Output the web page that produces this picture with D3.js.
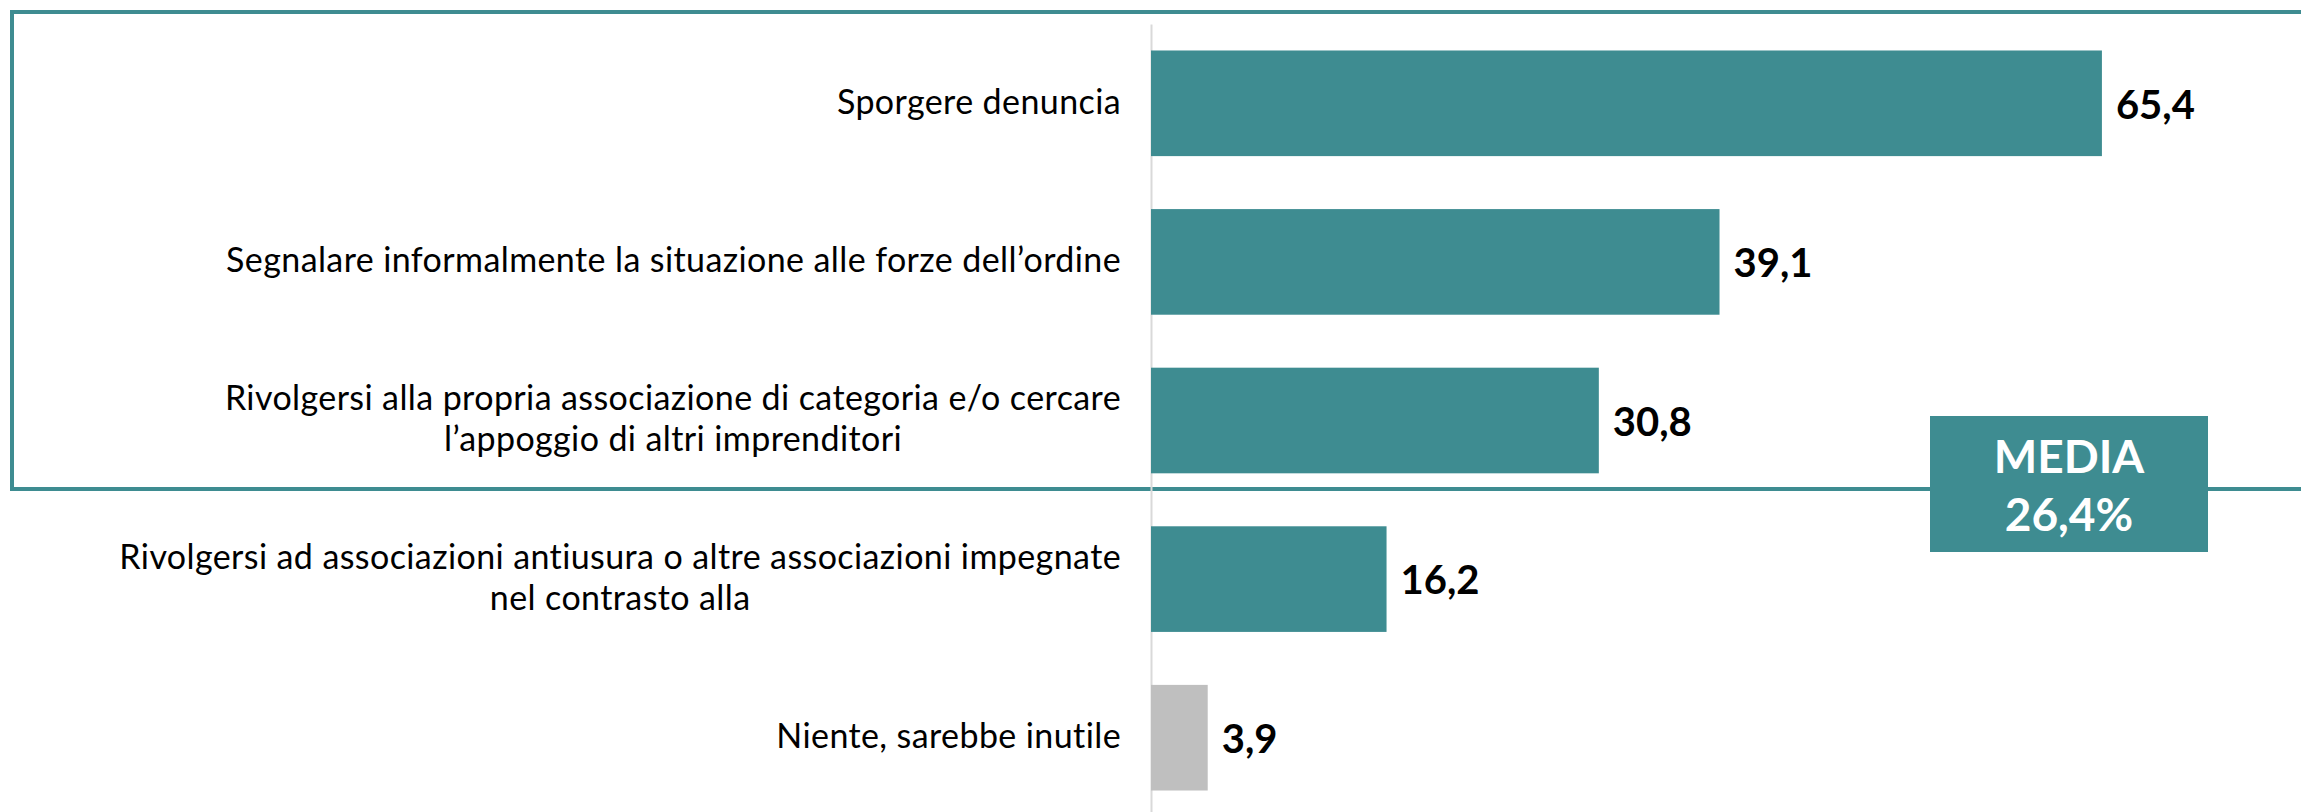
<!DOCTYPE html>
<html>
<head>
<meta charset="utf-8">
<script src="https://cdn.jsdelivr.net/npm/d3@7"></script>
<style>
  body { margin: 0; background: #fff; }
  svg { display: block; }
</style>
</head>
<body>
<svg id="chart"></svg>
<script>
// data
const categories = [
    "Sporgere denuncia",
    "Segnalare informalmente la situazione alle forze dell’ordine",
    "Rivolgersi alla propria associazione di categoria e/o cercare\nl’appoggio di altri imprenditori",
    "Rivolgersi ad associazioni antiusura o altre associazioni impegnate\nnel contrasto alla",
    "Niente, sarebbe inutile"
];
const values = [65.4, 39.1, 30.8, 16.2, 3.9];
const highlighted = [true, true, true, true, false];
const mediaLabel = "MEDIA";
const mediaValue = 26.4;

const TEAL = "#3E8C91";
const GREY = "#BFBFBF";

const width = 2301;
const height = 812;
const axisX = 1151;
const marginTop = 24;
const marginBottom = -5;
const labelPad = 30;

const fmt = v => d3.format(".1f")(v).replace(".", ",");

const svg = d3.select("#chart")
    .attr("width", width)
    .attr("height", height)
    .attr("viewBox", [0, 0, width, height]);

// scales
const y = d3.scaleBand(d3.range(categories.length), [marginTop, height - marginBottom])
    .paddingInner(0.334)
    .paddingOuter(0.167);
const x = d3.scaleLinear([0, 70], [axisX, axisX + 70 * 14.54]);

// frame around the first three answers
svg.append("rect")
    .attr("x", 12)
    .attr("y", 12)
    .attr("width", width + 4 - 12)
    .attr("height", 489 - 12)
    .attr("fill", "none")
    .attr("stroke", TEAL)
    .attr("stroke-width", 4);

// y axis with the category labels
const yAxis = svg.append("g")
    .attr("transform", `translate(${axisX},0)`)
    .call(d3.axisLeft(y).tickSize(0).tickPadding(labelPad).tickFormat(i => categories[i]));

yAxis.select(".domain")
    .attr("stroke", "#D9D9D9")
    .attr("stroke-width", 2);

yAxis.selectAll(".tick text")
    .attr("font-family", "Lato, 'Open Sans', sans-serif")
    .attr("font-size", 34)
    .attr("fill", "#000")
    .each(function(i) {
        const lines = categories[i].split("\n");
        const t = d3.select(this).text(null).attr("dy", null);
        const first = t.append("tspan")
            .attr("x", -labelPad)
            .attr("dy", lines.length > 1 ? "-0.3em" : "0.3em")
            .attr("text-anchor", "end")
            .attr("letter-spacing", 0.4)
            .text(lines[0]);
        if (lines.length > 1) {
            const w = first.node().getComputedTextLength();
            t.append("tspan")
                .attr("x", -labelPad - w / 2)
                .attr("dy", "1.2em")
                .attr("text-anchor", "middle")
                .attr("letter-spacing", 0.4)
                .text(lines[1]);
        }
    });

// bars
svg.append("g")
    .selectAll("rect")
    .data(values)
    .join("rect")
    .attr("x", x(0))
    .attr("y", (d, i) => y(i))
    .attr("width", d => x(d) - x(0))
    .attr("height", y.bandwidth())
    .attr("fill", (d, i) => highlighted[i] ? TEAL : GREY);

// value labels
svg.append("g")
    .attr("font-family", "Lato, 'Open Sans', sans-serif")
    .attr("font-weight", "bold")
    .attr("font-size", 40)
    .selectAll("text")
    .data(values)
    .join("text")
    .attr("x", d => x(d) + 14)
    .attr("y", (d, i) => y(i) + y.bandwidth() / 2)
    .attr("dy", "0.38em")
    .attr("fill", "#000")
    .text(d => fmt(d));

// media box
const box = svg.append("g");
box.append("rect")
    .attr("x", 1930)
    .attr("y", 416)
    .attr("width", 278)
    .attr("height", 136)
    .attr("fill", TEAL);
box.selectAll("text")
    .data([mediaLabel, fmt(mediaValue) + "%"])
    .join("text")
    .attr("x", 2069)
    .attr("y", (d, i) => 473 + i * 58)
    .attr("text-anchor", "middle")
    .attr("font-family", "Lato, 'Open Sans', sans-serif")
    .attr("font-weight", "bold")
    .attr("font-size", 46)
    .attr("fill", "#fff")
    .text(d => d);
</script>
</body>
</html>
